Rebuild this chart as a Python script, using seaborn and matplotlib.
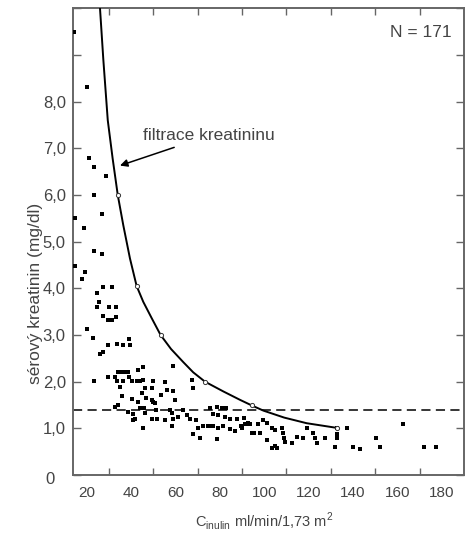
import matplotlib
matplotlib.use("Agg")
import matplotlib.pyplot as plt
import matplotlib.transforms as mtransforms
import pandas as pd
import seaborn as sns

# inulin clearance (ml/min/1,73 m2) and serum creatinine (mg/dl)
clearance = [
    14.2, 20.3, 21.0, 23.3, 28.7, 23.3, 26.8, 14.7, 18.9, 23.3, 26.8,
    14.7, 19.2, 17.7, 27.2, 31.3, 24.5, 25.7, 24.8, 30.2, 33.1, 27.5, 29.7,
    31.3, 33.2, 20.3, 23.0, 29.7, 33.5, 36.5, 39.2, 39.5, 26.0, 27.5,
    45.2, 43.3, 58.8, 35.8, 36.8, 34.2, 38.8,
    23.3, 29.7, 32.8, 33.5, 36.5, 39.2, 40.3, 42.5, 44.0, 45.5, 50.0, 55.3, 67.3,
    35.0, 46.3, 49.3, 56.1, 58.8, 68.0,
    35.8, 40.3, 44.8, 46.7, 50.0, 50.8, 49.3, 53.3, 59.8, 43.3,
    32.8, 34.2, 44.0, 45.8, 51.2, 57.5, 63.3, 75.6, 78.6, 80.8, 82.6,
    38.8, 41.0, 41.8, 46.3, 49.3, 51.5, 55.3, 58.3, 59.0, 61.3, 65.1, 66.6,
    69.3, 77.1, 79.3, 82.3, 84.6, 87.6, 90.9, 41.0,
    45.5, 58.3, 70.3, 72.5, 74.8, 77.1, 76.0, 79.3, 81.6, 84.6, 86.8, 89.4, 92.1,
    68.0, 71.1, 78.6,
    89.9, 91.3, 92.8, 93.6, 97.3, 99.6, 94.4, 95.4, 98.1, 101.1, 103.4, 104.9,
    101.1, 103.4, 104.9, 105.6, 107.9, 108.6, 108.9, 109.4, 112.4, 114.6,
    117.6, 119.1, 121.8, 122.9, 123.9, 127.4, 132.7, 132.7, 132.7, 131.9,
    137.2, 140.2, 143.2, 150.4, 152.2, 162.7, 172.0, 177.4,
]
creatinine = [
    9.50, 8.32, 6.80, 6.60, 6.40, 6.01, 5.60, 5.51, 5.30, 4.80, 4.73,
    4.48, 4.36, 4.20, 4.03, 4.03, 3.89, 3.71, 3.61, 3.61, 3.61, 3.40, 3.32,
    3.33, 3.39, 3.12, 2.93, 2.78, 2.80, 2.78, 2.91, 2.78, 2.60, 2.64,
    2.32, 2.25, 2.34, 2.21, 2.21, 2.21, 2.21,
    2.01, 2.11, 2.09, 2.01, 2.01, 2.11, 2.01, 2.01, 2.01, 2.03, 2.01, 2.00, 2.03,
    1.89, 1.87, 1.87, 1.82, 1.79, 1.87,
    1.70, 1.63, 1.75, 1.66, 1.57, 1.55, 1.61, 1.71, 1.61, 1.57,
    1.46, 1.50, 1.43, 1.43, 1.39, 1.39, 1.39, 1.44, 1.46, 1.44, 1.44,
    1.36, 1.30, 1.21, 1.32, 1.20, 1.20, 1.18, 1.32, 1.21, 1.25, 1.28, 1.20,
    1.18, 1.30, 1.28, 1.25, 1.20, 1.21, 1.23, 1.18,
    1.01, 1.04, 1.00, 1.06, 1.04, 1.04, 1.06, 1.01, 1.06, 0.99, 0.94, 1.06, 1.09,
    0.88, 0.79, 0.77,
    1.00, 1.09, 1.11, 1.09, 1.09, 1.18, 0.89, 0.89, 0.89, 1.11, 1.00, 0.96,
    0.76, 0.57, 0.63, 0.57, 1.00, 0.89, 0.79, 0.71, 0.68, 0.82,
    0.80, 1.01, 0.89, 0.79, 0.68, 0.79, 1.00, 0.87, 0.80, 0.59,
    1.00, 0.61, 0.55, 0.80, 0.59, 1.09, 0.59, 0.59,
]

# the "filtrace kreatininu" curve
curve_x = [26.0, 27.5, 29.5, 31.7, 34.0, 36.5, 39.5, 42.5, 45.5, 49.3, 53.3,
           58.0, 63.5, 68.0, 73.3, 81.6, 89.1, 94.4, 99.6, 109.0, 119.1, 132.7]
curve_y = [10.0, 8.9, 7.6, 6.78, 6.0, 5.35, 4.64, 4.05, 3.71, 3.36, 3.0,
           2.7, 2.42, 2.2, 2.0, 1.79, 1.61, 1.49, 1.38, 1.23, 1.11, 1.01]
# open circles on the curve
marks_x = [34.0, 42.5, 53.3, 73.3, 94.4, 132.7]
marks_y = [6.0, 4.05, 3.0, 2.0, 1.49, 1.01]

limit_level = 1.4
n_text = "N = 171"
curve_text = "filtrace kreatininu"

x_labels = [20, 40, 60, 80, 100, 120, 140, 160, 180]
x_marks = [30, 50, 70, 90, 110, 130, 150, 170]
y_ticks = [0, 1, 2, 3, 4, 5, 6, 7, 8, 9, 10]
y_labels = ["0", "1,0", "2,0", "3,0", "4,0", "5,0", "6,0", "7,0", "8,0", "", ""]

points = pd.DataFrame({"clearance": clearance, "creatinine": creatinine})
curve = pd.DataFrame({"x": curve_x, "y": curve_y})

sns.set_theme(style="ticks")
plt.rcParams["font.family"] = ["Liberation Sans", "DejaVu Sans"]
plt.rcParams["mathtext.fontset"] = "custom"
plt.rcParams["mathtext.rm"] = "Liberation Sans"

grey = "#444444"
fig = plt.figure(figsize=(4.73, 5.33), dpi=100)
ax = fig.add_axes([0.1537, 0.1088, 0.8273, 0.8756])

ax.axhline(limit_level, color="black", lw=1.1, dashes=(6, 3.5), zorder=1)
sns.scatterplot(data=points, x="clearance", y="creatinine", ax=ax,
                marker="s", s=5, color="black", linewidth=0, zorder=3)
sns.lineplot(data=curve, x="x", y="y", ax=ax, sort=False, estimator=None,
             color="black", lw=1.4, zorder=4)
ax.scatter(marks_x, marks_y, s=9, facecolor="white", edgecolor="#333333",
           linewidth=0.7, zorder=5)

ax.set_xlim(13.7, 190)
ax.set_ylim(0, 10)

ax.set_xticks(x_labels)
ax.set_xticklabels([str(v) for v in x_labels])
ax.set_xticks(x_marks, minor=True)
ax.tick_params(axis="x", which="major", length=0, pad=8, labelsize=11,
               labelcolor=grey)
ax.tick_params(axis="x", which="minor", direction="in", length=5, width=1,
               color="#666666", top=True, bottom=True)
ax.set_yticks(y_ticks)
ax.set_yticklabels(y_labels)
ax.tick_params(axis="y", which="major", direction="in", length=6, width=1,
               color="#666666", left=True, right=True, pad=5, labelsize=12,
               labelcolor=grey)
ax.tick_params(axis="y", which="minor", left=False, right=False)

# the "0" label sits a bit lower and further left in the original
zero_label = ax.yaxis.get_major_ticks()[0].label1
zero_label.set_transform(zero_label.get_transform() + mtransforms.ScaledTranslation(
    -8 / 72, -2 / 72, fig.dpi_scale_trans))

for side in ["left", "right", "top", "bottom"]:
    ax.spines[side].set_visible(True)
    ax.spines[side].set_color("#666666")
    ax.spines[side].set_linewidth(1.4)

ax.set_xlabel(r"C$_{\mathrm{inulin}}$ ml/min/1,73 m$^{2}$", fontsize=10.5,
              color=grey)
ax.xaxis.set_label_coords(0.49, -0.075)
ax.set_ylabel("sérový kreatinin (mg/dl)", fontsize=12.5, color=grey)
ax.yaxis.set_label_coords(-0.075, 0.39)

ax.text(0.969, 0.949, n_text, transform=ax.transAxes, ha="right", va="center",
        fontsize=12.5, color=grey)
ax.annotate(curve_text, xy=(35.0, 6.63), xytext=(45.4, 7.27),
            ha="left", va="center", fontsize=12.5, color=grey,
            arrowprops=dict(arrowstyle="-|>", color="black", lw=1.1,
                            mutation_scale=11, shrinkA=2, shrinkB=0))

fig.savefig("out.png", dpi=100)
